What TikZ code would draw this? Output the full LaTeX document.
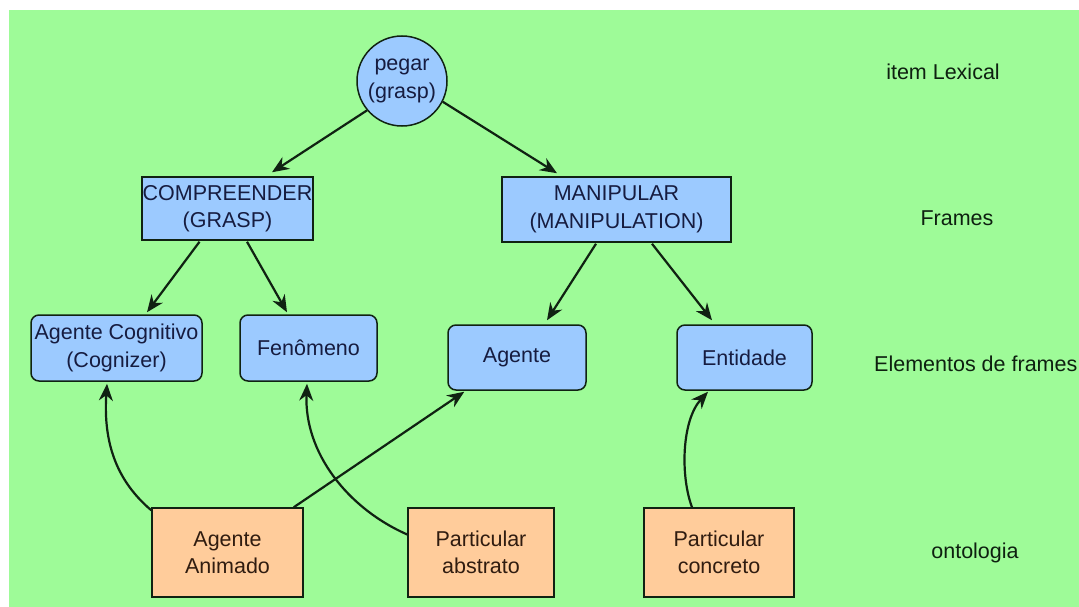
\documentclass[tikz,border=0pt]{standalone}
\usepackage{fontspec}
\setmainfont{Liberation Sans}
\usetikzlibrary{arrows.meta,calc}

\definecolor{bggreen}{RGB}{158,251,152}
\definecolor{fillblue}{RGB}{156,202,255}
\definecolor{fillorange}{RGB}{255,204,155}
\definecolor{linedark}{RGB}{16,34,18}
\definecolor{txtblue}{RGB}{22,28,64}
\definecolor{txtbrown}{RGB}{48,28,16}
\definecolor{txtlabel}{RGB}{14,32,16}

\tikzset{
  basefont/.style={font=\fontsize{21.5}{27.5}\selectfont, align=center, inner sep=0pt},
  lexbox/.style={basefont, circle, draw=linedark, line width=1.5pt, fill=fillblue,
    text=txtblue, minimum size=90pt},
  framebox/.style={basefont, rectangle, draw=linedark, line width=1.5pt, fill=fillblue,
    text=txtblue},
  elembox/.style={basefont, rectangle, rounded corners=8pt, draw=linedark, line width=1.5pt,
    fill=fillblue, text=txtblue},
  ontobox/.style={basefont, rectangle, draw=linedark, line width=1.5pt, fill=fillorange,
    text=txtbrown, minimum height=89pt},
  levellabel/.style={basefont, text=txtlabel},
  arr/.style={draw=linedark, line width=2.2pt,
    -{Stealth[length=17pt,width=14pt]}},
}

\begin{document}
\begin{tikzpicture}[x=1pt,y=-1pt]
  \useasboundingbox (0,0) rectangle (1079,607);
  \fill[white] (0,0) rectangle (1079,607);
  \begin{scope}
  \clip (0,0) rectangle (1079,607);
  \fill[bggreen] (9,10) rectangle (1100,630);

  % lexical item
  \node[lexbox] (pegar) at (402,81) {pegar\\(grasp)};

  % frames
  \node[framebox, minimum width=171pt, minimum height=63pt] (comp) at (227.5,208.5) {COMPREENDER\\(GRASP)};
  \node[framebox, minimum width=229pt, minimum height=65pt] (manip) at (616.5,209.5) {MANIPULAR\\(MANIPULATION)};

  % frame elements
  \node[elembox, minimum width=171pt, minimum height=66pt] (agcog) at (116.5,348) {Agente Cognitivo\\(Cognizer)};
  \node[elembox, minimum width=137pt, minimum height=66pt] (fen) at (308.5,348) {Fenômeno};
  \node[elembox, minimum width=138pt, minimum height=65pt] (agente) at (517,357.5) {Agente};
  \node[elembox, minimum width=135pt, minimum height=65pt] (entid) at (744.5,357.5) {Entidade};

  % ontology
  \node[ontobox, minimum width=151pt] (animado) at (227.5,552.5) {Agente\\Animado};
  \node[ontobox, minimum width=146pt] (abstrato) at (481,552.5) {Particular\\abstrato};
  \node[ontobox, minimum width=150pt] (concreto) at (719,552.5) {Particular\\concreto};

  % level labels
  \node[levellabel] (lblLex) at (943,72) {item Lexical};
  \node[levellabel] (lblFrames) at (957,218) {Frames};
  \node[levellabel, anchor=west] (lblElem) at (874,364) {Elementos de frames};
  \node[levellabel] (lblOnto) at (975,553) {ontologia};

  % lexical item to frames
  \draw[arr] (pegar.220) -- ($(comp.north)+(44.5,-4)$);
  \draw[arr] (pegar.333) -- ($(manip.north)+(-59.5,-3)$);

  % frames to frame elements
  \draw[arr] ($(comp.south)+(-28,1)$) -- ($(agcog.north)+(30.5,-2)$);
  \draw[arr] ($(comp.south)+(19.5,1)$) -- ($(fen.north)+(-21.5,-2)$);
  \draw[arr] ($(manip.south)+(-20.5,1)$) -- ($(agente.north)+(30,-4)$);
  \draw[arr] ($(manip.south)+(35.5,1)$) -- ($(entid.north)+(-32.5,-4)$);

  % ontology to frame elements
  \draw[arr] ($(animado.north west)+(0,3)$) .. controls (118,482) and (103,445) .. ($(agcog.south)+(-9.5,2)$);
  \draw[arr] ($(animado.north east)+(-10,0)$) -- ($(agente.south west)+(17,1)$);
  \draw[arr] ($(abstrato.west)+(0,-18)$) .. controls (347,508) and (304,452) .. ($(fen.south)+(-1.5,2)$);
  \draw[arr] ($(concreto.north)+(-27,0)$) .. controls (680,475) and (682,420) .. ($(entid.south)+(-36.5,1)$);
  \end{scope}
\end{tikzpicture}
\end{document}
